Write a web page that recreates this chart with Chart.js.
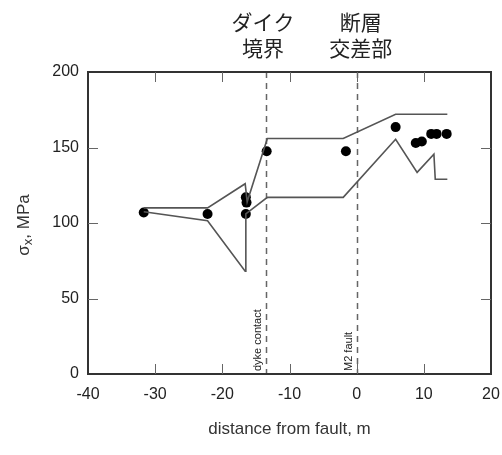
<!DOCTYPE html>
<html lang="ja">
<head>
    <meta charset="UTF-8">
    <title>σx vs distance from fault</title>
    <style>
        html, body {
            margin: 0;
            padding: 0;
            background: #fff;
        }
        #wrap {
            width: 502px;
            height: 455px;
        }
    </style>
    <script src="https://cdn.jsdelivr.net/npm/chart.js"></script>
</head>
<body>

<div id="wrap"><canvas id="grafico"></canvas></div>

<script>
// measured points (dots)
const dotX = [-31.7, -22.2, -16.5, -16.4, -16.5, -13.4, -1.6, 5.8, 8.8, 9.7, 11.1, 11.9, 13.4];
const dotY = [107, 106, 117, 113.5, 106, 147.5, 147.5, 163.5, 153, 154, 159, 159, 159];

// upper model envelope
const upX = [-31.7, -22.2, -16.6, -16.3, -13.3, -2, 5.8, 13.5];
const upY = [110, 110, 126, 114, 156, 156, 172, 172];

// lower model envelope
const loX = [-31.7, -22.2, -16.6, -16.5, -13.3, -2, 5.8, 9, 11.5, 11.7, 13.5];
const loY = [107.5, 101.5, 68, 106, 117, 117, 155.5, 133.5, 145.5, 129, 129];

// vertical markers
const markX = [-13.5, 0];
const markLabel = ['dyke contact', 'M2 fault'];
const markTitle = [['ダイク', '境界'], ['断層', '交差部']];

const xTicks = [-40, -30, -20, -10, 0, 10, 20];
const yTicks = [0, 50, 100, 150, 200];

const toPts = (xs, ys) => xs.map((x, i) => ({ x: x, y: ys[i] }));
const FONT = '"Liberation Sans", Arial, sans-serif';

const frame = {
    id: 'frame',
    beforeDatasetsDraw(chart) {
        const { ctx, chartArea: a, scales: { x } } = chart;
        ctx.save();
        ctx.strokeStyle = '#666';
        ctx.lineWidth = 1.5;
        ctx.setLineDash([6, 5]);
        markX.forEach(v => {
            const px = Math.round(x.getPixelForValue(v)) + 0.5;
            ctx.beginPath();
            ctx.moveTo(px, a.top);
            ctx.lineTo(px, a.bottom);
            ctx.stroke();
        });
        ctx.restore();
    },
    afterDraw(chart) {
        const { ctx, chartArea: a, scales: { x, y } } = chart;
        ctx.save();
        // box
        ctx.strokeStyle = '#333';
        ctx.lineWidth = 2;
        ctx.strokeRect(a.left, a.top, a.right - a.left, a.bottom - a.top);

        // inward ticks
        ctx.lineWidth = 1;
        ctx.strokeStyle = '#666';
        const len = 10;
        ctx.beginPath();
        xTicks.slice(1, -1).forEach(v => {
            const px = Math.round(x.getPixelForValue(v)) + 0.5;
            ctx.moveTo(px, a.bottom); ctx.lineTo(px, a.bottom - len);
            ctx.moveTo(px, a.top); ctx.lineTo(px, a.top + len);
        });
        yTicks.slice(1, -1).forEach(v => {
            const py = Math.round(y.getPixelForValue(v)) + 0.5;
            ctx.moveTo(a.left, py); ctx.lineTo(a.left + len, py);
            ctx.moveTo(a.right, py); ctx.lineTo(a.right - len, py);
        });
        ctx.stroke();

        // rotated marker labels
        ctx.fillStyle = '#222';
        ctx.font = '11px ' + FONT;
        ctx.textAlign = 'left';
        ctx.textBaseline = 'middle';
        markX.forEach((v, i) => {
            const px = x.getPixelForValue(v) - 8;
            ctx.save();
            ctx.translate(px, a.bottom - 3);
            ctx.rotate(-Math.PI / 2);
            ctx.fillText(markLabel[i], 0, 0);
            ctx.restore();
        });

        // japanese titles above
        ctx.font = '21px "Noto Sans CJK JP", sans-serif';
        ctx.textAlign = 'center';
        ctx.fillStyle = '#222';
        markX.forEach((v, i) => {
            const px = x.getPixelForValue(v) + (i === 0 ? -3 : 4);
            ctx.fillText(markTitle[i][0], px, 22);
            ctx.fillText(markTitle[i][1], px, 48);
        });

        // axis titles
        ctx.font = '17px ' + FONT;
        ctx.fillStyle = '#333';
        ctx.fillText('distance from fault, m', (a.left + a.right) / 2, 429);

        ctx.save();
        ctx.translate(24, (a.top + a.bottom) / 2 + 2);
        ctx.rotate(-Math.PI / 2);
        ctx.textAlign = 'left';
        ctx.font = '17px ' + FONT;
        const w1 = ctx.measureText('σ').width;
        ctx.font = '13px ' + FONT;
        const w2 = ctx.measureText('x').width;
        ctx.font = '17px ' + FONT;
        const w3 = ctx.measureText(', MPa').width;
        let sx = -(w1 + w2 + w3) / 2;
        ctx.fillText('σ', sx, 0);
        sx += w1;
        ctx.font = '13px ' + FONT;
        ctx.fillText('x', sx, 4);
        sx += w2;
        ctx.font = '17px ' + FONT;
        ctx.fillText(', MPa', sx, 0);
        ctx.restore();

        ctx.restore();
    }
};

const ctx = document.getElementById('grafico').getContext('2d');
const chart = new Chart(ctx, {
    type: 'scatter',
    data: {
        datasets: [
            {
                label: 'upper',
                data: toPts(upX, upY),
                showLine: true,
                borderColor: '#555',
                borderWidth: 1.6,
                pointRadius: 0,
                tension: 0
            },
            {
                label: 'lower',
                data: toPts(loX, loY),
                showLine: true,
                borderColor: '#555',
                borderWidth: 1.6,
                pointRadius: 0,
                tension: 0
            },
            {
                label: 'measured',
                data: toPts(dotX, dotY),
                showLine: false,
                backgroundColor: '#000',
                borderColor: '#000',
                pointRadius: 5,
                borderWidth: 0
            }
        ]
    },
    options: {
        responsive: true,
        maintainAspectRatio: false,
        animation: false,
        layout: { padding: { top: 72, right: 11, left: 0, bottom: 0 } },
        plugins: {
            legend: { display: false },
            tooltip: { enabled: false }
        },
        scales: {
            x: {
                type: 'linear',
                min: -40,
                max: 20,
                afterBuildTicks: s => { s.ticks = xTicks.map(v => ({ value: v })); },
                afterFit: s => { s.height = 81; s.paddingLeft = 0; s.paddingRight = 0; },
                grid: { display: true, drawOnChartArea: false, drawTicks: false },
                border: { display: false },
                ticks: {
                    padding: 11,
                    color: '#222',
                    font: { size: 16, family: FONT },
                    maxRotation: 0
                }
            },
            y: {
                type: 'linear',
                min: 0,
                max: 200,
                afterBuildTicks: s => { s.ticks = yTicks.map(v => ({ value: v })); },
                afterFit: s => { s.width = 88; s.paddingTop = 0; s.paddingBottom = 0; },
                grid: { display: true, drawOnChartArea: false, drawTicks: false },
                border: { display: false },
                ticks: {
                    padding: 9,
                    color: '#222',
                    font: { size: 16, family: FONT }
                }
            }
        }
    },
    plugins: [frame]
});
</script>

</body>
</html>
